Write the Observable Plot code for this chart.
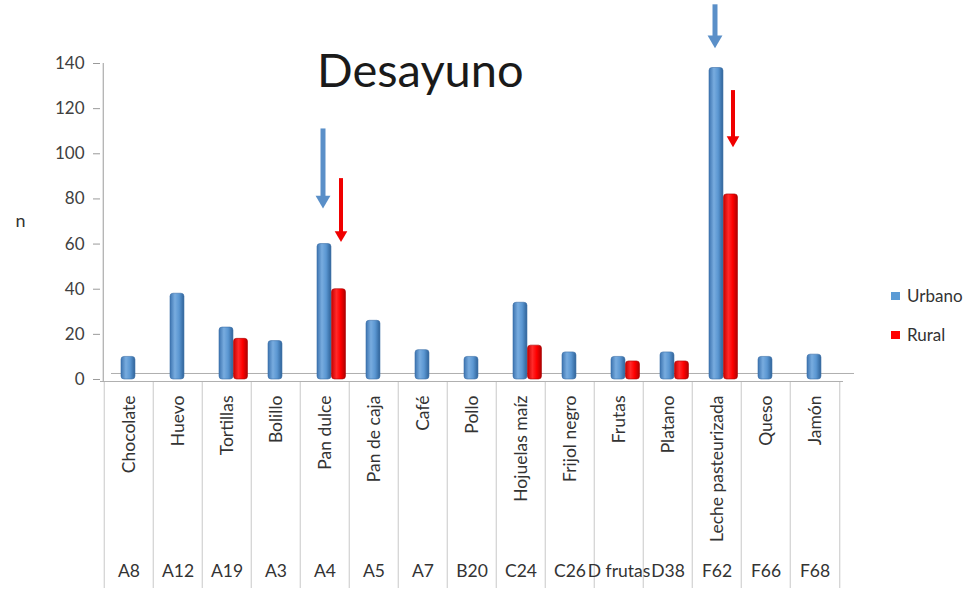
<!DOCTYPE html>
<html>
<head>
<meta charset="utf-8">
<script src="https://cdn.jsdelivr.net/npm/d3@7"></script>
<script src="https://cdn.jsdelivr.net/npm/@observablehq/plot@0.6"></script>
<style>
  html, body { margin: 0; padding: 0; background: #fff; }
  #wrap { position: relative; width: 971px; height: 590px; font-family: Lato, "Open Sans", sans-serif; }
  #title { position: absolute; left: 317px; top: 46px; font-size: 47px; line-height: 1; color: #1a1a1a; }
  .leg { position: absolute; left: 891px; font-size: 17px; color: #333; display: flex; align-items: center; line-height: 1; }
  .leg i { display: inline-block; width: 9px; height: 8px; margin-right: 7px; }
</style>
</head>
<body>
<div id="wrap"></div>
<script>
const categories = ["Chocolate","Huevo","Tortillas","Bolillo","Pan dulce","Pan de caja","Café","Pollo","Hojuelas maíz","Frijol negro","Frutas","Platano","Leche pasteurizada","Queso","Jamón"];
const codes = ["A8","A12","A19","A3","A4","A5","A7","B20","C24","C26","D frutas","D38","F62","F66","F68"];
const urbano = [10,38,23,17,60,26,13,10,34,12,10,12,138,10,11];
const rural = [null,null,18,null,40,null,null,null,15,null,8,8,82,null,null];
const yTicks = [0,20,40,60,80,100,120,140];
const seriesNames = ["Urbano","Rural"];
const seriesColors = ["#5b9bd5","#ff0000"];
// annotation arrows (data units)
const arrowCategory = ["Pan dulce","Pan dulce","Leche pasteurizada","Leche pasteurizada"];
const arrowSeries = ["Urbano","Rural","Urbano","Rural"];
const arrowFrom = [111, 89, 166, 128];
const arrowTo = [76, 61, 147, 103];

const W = 971, H = 590, ML = 100, MR = 128, MT = 63, MB = 2;
const yMin = -92.6;
const bw = (W - ML - MR) / categories.length;

const table = categories.map((c, i) => ({cat: c, code: codes[i], u: urbano[i], r: rural[i]}));
const arrows = arrowCategory.map((c, i) => ({cat: c, s: arrowSeries[i], from: arrowFrom[i], to: arrowTo[i]}));
const aU = arrows.filter(d => d.s === "Urbano");
const aR = arrows.filter(d => d.s === "Rural");

const chart = Plot.plot({
  width: W, height: H,
  marginLeft: ML, marginRight: MR, marginTop: MT, marginBottom: MB,
  style: {fontFamily: "Lato, 'Open Sans', sans-serif", fontSize: "17px", color: "#404040", background: "white"},
  x: {type: "band", domain: categories, padding: 0, axis: null},
  y: {domain: [yMin, 140], axis: null},
  marks: [
    // separators in label area
    Plot.ruleX(table, {x: "cat", dx: -bw / 2, y1: -1, y2: yMin, stroke: "#c8c8c8"}),
    Plot.ruleX(table.slice(-1), {x: "cat", dx: bw / 2, y1: -1, y2: yMin, stroke: "#c8c8c8"}),
    // floor
    Plot.ruleY([0], {dy: 2, stroke: "#b0b0b0"}),
    Plot.ruleY([0], {dy: -6, dx: 11, stroke: "#b0b0b0"}),
    // y axis
    Plot.ruleX([0], {x: () => categories[0], dx: -bw / 2 - 1, y1: -1, y2: 140, stroke: "#9a9a9a"}),
    Plot.axisY({ticks: yTicks, tickSize: 7, tickPadding: 9, stroke: "#9a9a9a", fill: "#404040", fontSize: 17, label: null}),
    Plot.text(["n"], {frameAnchor: "left", y: 70, dx: -85, textAnchor: "start", fontSize: 18, fill: "#333"}),
    // bars
    Plot.barY(table.filter(d => d.u != null), {x: "cat", y: "u", insetLeft: 17, insetRight: bw - 31.5, fill: seriesColors[0], rx: 3}),
    Plot.barY(table.filter(d => d.r != null), {x: "cat", y: "r", insetLeft: 31.5, insetRight: bw - 46, fill: seriesColors[1], rx: 3}),
    // arrows
    Plot.ruleX(aU, {x: "cat", y1: "from", y2: d => d.to + 4, dx: -2, stroke: "#5a8fc8", strokeWidth: 5}),
    Plot.dot(aU, {x: "cat", y: "to", dx: -2, dy: -8, symbol: "triangle", rotate: 180, r: 5.5, fill: "#5a8fc8"}),
    Plot.ruleX(aR, {x: "cat", y1: "from", y2: d => d.to + 4, dx: 16, stroke: "#f00000", strokeWidth: 4}),
    Plot.dot(aR, {x: "cat", y: "to", dx: 16, dy: -7, symbol: "triangle", rotate: 180, r: 4.7, fill: "#f00000"}),
    // category labels
    Plot.text(table, {x: "cat", y: 0, dy: 16, text: "cat", rotate: -90, textAnchor: "end", fontSize: 17.5, fill: "#333"}),
    Plot.text(table, {x: "cat", frameAnchor: "bottom", dy: -12, text: "code", fontSize: 17.5, fill: "#333"})
  ]
});

const svg = d3.select(chart);
const defs = svg.insert("defs", ":first-child");
function grad(id, stops) {
  const g = defs.append("linearGradient").attr("id", id).attr("x1", "0").attr("x2", "1").attr("y1", "0").attr("y2", "0");
  stops.forEach(([o, c]) => g.append("stop").attr("offset", o).attr("stop-color", c));
}
grad("gU", [["0%", "#3d74b0"], ["35%", "#78acdf"], ["65%", "#5b97d2"], ["100%", "#2f6399"]]);
grad("gR", [["0%", "#c80000"], ["35%", "#ff2a2a"], ["65%", "#ff0000"], ["100%", "#b00000"]]);
svg.selectAll('g[fill="' + seriesColors[0] + '"] rect').attr("fill", "url(#gU)");
svg.selectAll('g[fill="' + seriesColors[1] + '"] rect').attr("fill", "url(#gR)");
svg.selectAll('g[fill="' + seriesColors[0] + '"]').attr("stroke", "#3a6ea8").attr("stroke-width", 0.6);
svg.selectAll('g[fill="' + seriesColors[1] + '"]').attr("stroke", "#a80000").attr("stroke-width", 0.6);

const wrap = document.getElementById("wrap");
wrap.appendChild(chart);
const t = document.createElement("div");
t.id = "title"; t.textContent = "Desayuno";
wrap.appendChild(t);
seriesNames.forEach((s, i) => {
  const d = document.createElement("div");
  d.className = "leg";
  d.style.top = (287 + i * 39) + "px";
  d.innerHTML = '<i style="background:' + seriesColors[i] + '"></i>' + s;
  wrap.appendChild(d);
});
</script>
</body>
</html>
